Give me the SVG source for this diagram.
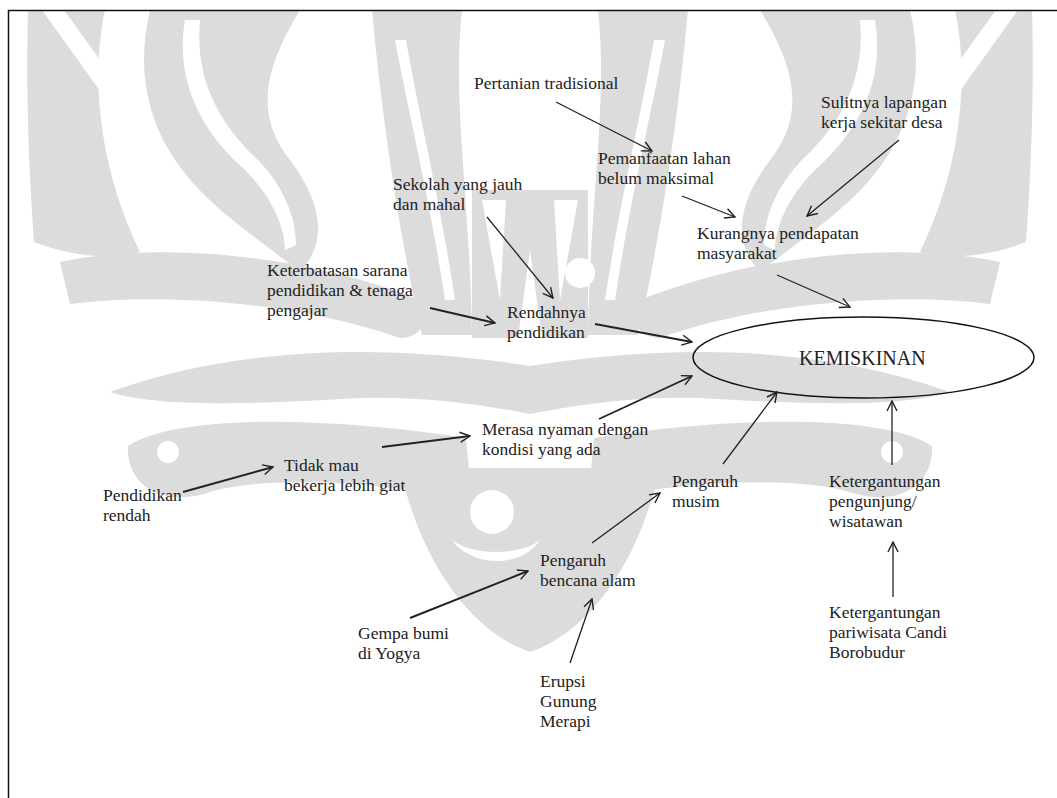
<svg xmlns="http://www.w3.org/2000/svg" width="1057" height="798" viewBox="0 0 1057 798">
  <defs>
    <marker id="head" viewBox="0 0 12 12" refX="11" refY="6" markerWidth="12" markerHeight="12" markerUnits="userSpaceOnUse" orient="auto">
      <path d="M1,1 L11,6 L1,11" fill="none" stroke="#222" stroke-width="1.4"/>
    </marker>
    <style>
      text { font-family: "Liberation Serif", "Times New Roman", serif; font-size: 17.5px; fill: #222; }
      .title { font-size: 20px; }
      .edge { fill: none; stroke: #222; stroke-width: 1.3; marker-end: url(#head); }
      .bold { stroke-width: 1.9; }
      .frame { fill: none; stroke: #111; stroke-width: 1.5; }
      .wm { fill: #dcdcdc; }
      .wm-cut { fill: #fff; }
    </style>
  </defs>
  <rect width="1057" height="798" fill="#fff"/>

  <!-- faint ornamental watermark behind the chart -->
  <g id="watermark">
    <!-- outer flames -->
    <path class="wm" d="M28,10 H105 C90,80 100,170 140,252 C100,262 60,252 34,242 C28,160 26,80 28,10 Z"/>
    <path class="wm" d="M1032,10 H955 C970,80 960,170 920,252 C960,262 1000,252 1026,242 C1032,160 1034,80 1032,10 Z"/>
    <path class="wm-cut" d="M42,10 H64 L132,104 L118,116 Z"/>
    <path class="wm-cut" d="M1018,10 H996 L928,104 L942,116 Z"/>
    <!-- inner flames -->
    <path class="wm" d="M150,10 H300 C270,60 250,110 290,160 C320,200 330,240 300,272 C250,232 200,202 170,152 C140,102 140,52 150,10 Z"/>
    <path class="wm" d="M910,10 H760 C790,60 810,110 770,160 C740,200 730,240 760,272 C810,232 860,202 890,152 C920,102 920,52 910,10 Z"/>
    <path class="wm-cut" d="M185,20 C175,80 200,130 245,170 C270,195 285,225 285,250 L296,245 C296,215 282,185 258,160 C215,120 195,75 200,20 Z"/>
    <path class="wm-cut" d="M875,20 C885,80 860,130 815,170 C790,195 775,225 775,250 L764,245 C764,215 778,185 802,160 C845,120 865,75 860,20 Z"/>
    <!-- central columns -->
    <path class="wm" d="M372,10 H462 C452,100 470,200 472,335 L422,335 C400,240 382,120 372,10 Z"/>
    <path class="wm" d="M688,10 H598 C608,100 590,200 588,335 L638,335 C660,240 678,120 688,10 Z"/>
    <path class="wm-cut" d="M395,40 C410,120 430,200 445,300 L455,300 C440,200 420,120 406,40 Z"/>
    <path class="wm-cut" d="M665,40 C650,120 630,200 615,300 L605,300 C620,200 640,120 654,40 Z"/>
    <!-- central W -->
    <path class="wm" d="M472,190 H588 V338 H472 Z"/>
    <path class="wm-cut" d="M482,200 L506,200 L500,300 Z"/>
    <path class="wm-cut" d="M554,200 L578,200 L560,300 Z"/>
    <path class="wm-cut" d="M518,338 L530,250 L542,338 Z"/>
    <circle class="wm-cut" cx="580" cy="273" r="15"/>
    <!-- side arms -->
    <path class="wm" d="M60,262 C150,242 300,252 420,300 C432,318 422,338 400,338 C300,302 160,292 70,304 Z"/>
    <path class="wm" d="M1000,262 C910,242 760,252 640,300 C628,318 638,338 660,338 C760,302 900,292 990,304 Z"/>
    <!-- middle swirl band -->
    <path class="wm" d="M110,392 C250,342 400,346 530,366 C660,346 810,342 950,392 C900,408 800,404 700,398 C640,396 580,404 530,414 C480,404 420,396 360,398 C260,404 160,408 110,392 Z"/>
    <!-- lower bands with curled tails -->
    <path class="wm" d="M128,446 C180,412 340,418 466,438 L472,500 C380,482 262,474 204,494 C160,506 126,484 128,446 Z"/>
    <circle class="wm-cut" cx="168" cy="452" r="11"/>
    <path class="wm" d="M932,446 C880,412 720,418 594,438 L588,500 C680,482 798,474 856,494 C900,506 934,484 932,446 Z"/>
    <circle class="wm-cut" cx="892" cy="452" r="11"/>
    <!-- lower bowl -->
    <path class="wm" d="M400,468 C420,560 470,632 530,652 C590,632 640,560 660,468 Z"/>
    <circle class="wm-cut" cx="492" cy="512" r="22"/>
    <path class="wm-cut" d="M452,540 C470,566 520,570 540,540 C520,556 472,556 452,540 Z"/>
  </g>

  <!-- page frame: top and left rules -->
  <path class="frame" d="M8.5,798 V10.5 H1057"/>

  <!-- causes -->
  <g id="pertanian"><text x="474" y="89">Pertanian tradisional</text></g>
  <g id="sulitnya"><text x="821" y="108">Sulitnya lapangan</text><text x="821" y="128">kerja sekitar desa</text></g>
  <g id="pemanfaatan"><text x="598" y="164">Pemanfaatan lahan</text><text x="598" y="184">belum maksimal</text></g>
  <g id="sekolah"><text x="393" y="190">Sekolah yang jauh</text><text x="393" y="210">dan mahal</text></g>
  <g id="kurangnya"><text x="697" y="239">Kurangnya pendapatan</text><text x="697" y="259">masyarakat</text></g>
  <g id="keterbatasan"><text x="267" y="276">Keterbatasan sarana</text><text x="267" y="296">pendidikan &amp; tenaga</text><text x="267" y="316">pengajar</text></g>
  <g id="rendahnya"><text x="507" y="318">Rendahnya</text><text x="507" y="338">pendidikan</text></g>

  <g id="kemiskinan">
    <ellipse cx="863.5" cy="357.5" rx="170.5" ry="40.5" fill="none" stroke="#111" stroke-width="1.5"/>
    <text class="title" x="799" y="365">KEMISKINAN</text>
  </g>

  <g id="merasa"><text x="482" y="435">Merasa nyaman dengan</text><text x="482" y="455">kondisi yang ada</text></g>
  <g id="tidak-mau"><text x="284" y="471">Tidak mau</text><text x="284" y="491">bekerja lebih giat</text></g>
  <g id="pendidikan-rendah"><text x="103" y="501">Pendidikan</text><text x="103" y="521">rendah</text></g>
  <g id="musim"><text x="672" y="487">Pengaruh</text><text x="672" y="507">musim</text></g>
  <g id="pengunjung"><text x="829" y="487">Ketergantungan</text><text x="829" y="507">pengunjung/</text><text x="829" y="527">wisatawan</text></g>
  <g id="bencana"><text x="540" y="566">Pengaruh</text><text x="540" y="586">bencana alam</text></g>
  <g id="gempa"><text x="358" y="639">Gempa bumi</text><text x="358" y="659">di Yogya</text></g>
  <g id="pariwisata"><text x="829" y="618">Ketergantungan</text><text x="829" y="638">pariwisata Candi</text><text x="829" y="658">Borobudur</text></g>
  <g id="erupsi"><text x="540" y="687">Erupsi</text><text x="540" y="707">Gunung</text><text x="540" y="727">Merapi</text></g>

  <g id="connectors">
    <line class="edge" x1="556" y1="102" x2="652" y2="151"/>
    <line class="edge" x1="899" y1="140" x2="807" y2="216"/>
    <line class="edge" x1="682" y1="196" x2="735" y2="217"/>
    <line class="edge" x1="487" y1="217" x2="553" y2="298"/>
    <line class="edge bold" x1="430" y1="308" x2="495" y2="323"/>
    <line class="edge bold" x1="595" y1="324" x2="692" y2="342"/>
    <line class="edge" x1="777" y1="275" x2="850" y2="307"/>
    <line class="edge bold" x1="599" y1="419" x2="692" y2="376"/>
    <line class="edge" x1="723" y1="464" x2="777" y2="392"/>
    <line class="edge" x1="892" y1="465" x2="892" y2="401"/>
    <line class="edge" x1="893" y1="597" x2="893" y2="542"/>
    <line class="edge bold" x1="382" y1="447" x2="470" y2="436"/>
    <line class="edge bold" x1="183" y1="492" x2="273" y2="467"/>
    <line class="edge" x1="592" y1="543" x2="660" y2="493"/>
    <line class="edge bold" x1="410" y1="618" x2="528" y2="571"/>
    <line class="edge" x1="570" y1="663" x2="592" y2="599"/>
  </g>
</svg>
